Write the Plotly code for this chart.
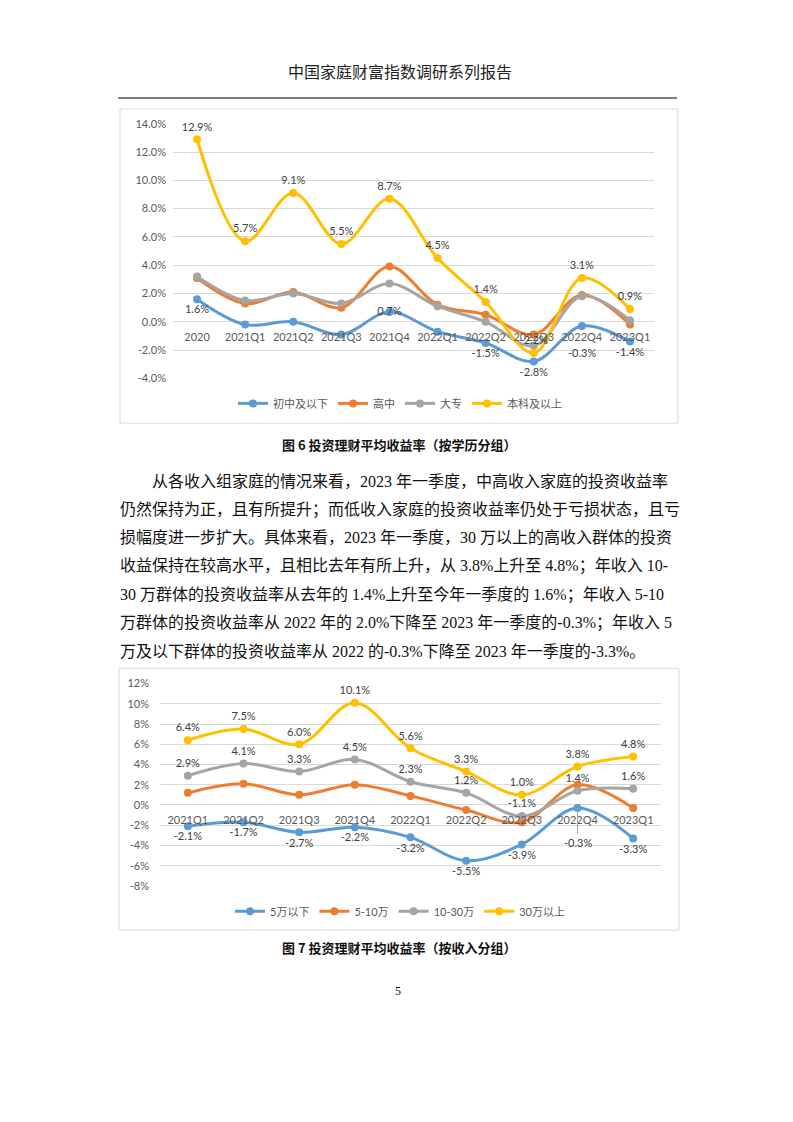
import plotly.graph_objects as go

W, H = 793, 1122
OX, OY = 8, 8                 # default page margin of the html body
FW, FH = W - 2 * OX, H - 2 * OY

# ---------------- data ----------------
cats_edu = ["2020", "2021Q1", "2021Q2", "2021Q3", "2021Q4",
            "2022Q1", "2022Q2", "2022Q3", "2022Q4", "2023Q1"]
edu_names = ["初中及以下", "高中", "大专", "本科及以上"]
edu_junior = [1.6, -0.2, 0.0, -0.9, 0.7, -0.7, -1.5, -2.8, -0.3, -1.4]
edu_senior = [3.1, 1.3, 2.1, 1.0, 3.9, 1.2, 0.5, -0.9, 1.9, -0.2]
edu_college = [3.2, 1.5, 2.0, 1.3, 2.7, 1.1, 0.0, -1.7, 1.8, 0.1]
edu_bachelor = [12.9, 5.7, 9.1, 5.5, 8.7, 4.5, 1.4, -2.2, 3.1, 0.9]
edu_junior_labeled = [0, 4, 6, 7, 9]
edu_junior_callout = 8
edu_yticks = [-4, -2, 0, 2, 4, 6, 8, 10, 12, 14]

cats_inc = ["2021Q1", "2021Q2", "2021Q3", "2021Q4",
            "2022Q1", "2022Q2", "2022Q3", "2022Q4", "2023Q1"]
inc_names = ["5万以下", "5-10万", "10-30万", "30万以上"]
inc_u5 = [-2.1, -1.7, -2.7, -2.2, -3.2, -5.5, -3.9, -0.3, -3.3]
inc_5_10 = [1.2, 2.1, 1.0, 2.0, 0.9, -0.5, -1.7, 2.0, -0.3]
inc_10_30 = [2.9, 4.1, 3.3, 4.5, 2.3, 1.2, -1.1, 1.4, 1.6]
inc_30p = [6.4, 7.5, 6.0, 10.1, 5.6, 3.3, 1.0, 3.8, 4.8]
inc_u5_callout = 7
inc_yticks = [-8, -6, -4, -2, 0, 2, 4, 6, 8, 10, 12]

header_text = "中国家庭财富指数调研系列报告"
caption6 = "图 6 投资理财平均收益率（按学历分组）"
caption7 = "图 7 投资理财平均收益率（按收入分组）"
body_lines = [
    "从各收入组家庭的情况来看，2023 年一季度，中高收入家庭的投资收益率",
    "仍然保持为正，且有所提升；而低收入家庭的投资收益率仍处于亏损状态，且亏",
    "损幅度进一步扩大。具体来看，2023 年一季度，30 万以上的高收入群体的投资",
    "收益保持在较高水平，且相比去年有所上升，从 3.8%上升至 4.8%；年收入 10-",
    "30 万群体的投资收益率从去年的 1.4%上升至今年一季度的 1.6%；年收入 5-10",
    "万群体的投资收益率从 2022 年的 2.0%下降至 2023 年一季度的-0.3%；年收入 5",
    "万及以下群体的投资收益率从 2022 的-0.3%下降至 2023 年一季度的-3.3%。",
]
page_no = "5"

COLORS = ["#5B9BD5", "#ED7D31", "#A5A5A5", "#FFC000"]
CHART_FONT = "Lato, 'Noto Sans CJK SC', sans-serif"
LABEL_COLOR = "#404040"
AXIS_COLOR = "#595959"
GRID = "#D9D9D9"


def py(y):
    return 1 - (y - OY) / FH


def px(x):
    return (x - OX) / FW


def fmt1(v):
    return f"{v:.1f}%"


fig = go.Figure()


def add_series(x, y, name, color, xa, ya, legend, text=None, pos=None):
    fig.add_trace(go.Scatter(
        x=x, y=y, name=name, mode="lines+markers+text" if text else "lines+markers",
        line=dict(color=color, width=3, shape="spline", smoothing=1),
        marker=dict(color=color, size=8),
        text=text, textposition=pos,
        textfont=dict(size=11, color=LABEL_COLOR, family=CHART_FONT),
        xaxis=xa, yaxis=ya, legend=legend, cliponaxis=False,
    ))


# chart 1 (education)
junior_text = [fmt1(v) if i in edu_junior_labeled else "" for i, v in enumerate(edu_junior)]
junior_pos = ["middle center" if i == 4 else "bottom center" for i in range(len(edu_junior))]
add_series(cats_edu, edu_junior, edu_names[0], COLORS[0], "x", "y", "legend",
           junior_text, junior_pos)
add_series(cats_edu, edu_senior, edu_names[1], COLORS[1], "x", "y", "legend")
add_series(cats_edu, edu_college, edu_names[2], COLORS[2], "x", "y", "legend")
add_series(cats_edu, edu_bachelor, edu_names[3], COLORS[3], "x", "y", "legend",
           [fmt1(v) for v in edu_bachelor], "top center")

# chart 2 (income)
u5_text = ["" if i == inc_u5_callout else fmt1(v) for i, v in enumerate(inc_u5)]
add_series(cats_inc, inc_u5, inc_names[0], COLORS[0], "x2", "y2", "legend2",
           u5_text, "bottom center")
add_series(cats_inc, inc_5_10, inc_names[1], COLORS[1], "x2", "y2", "legend2")
add_series(cats_inc, inc_10_30, inc_names[2], COLORS[2], "x2", "y2", "legend2",
           [fmt1(v) for v in inc_10_30], "top center")
add_series(cats_inc, inc_30p, inc_names[3], COLORS[3], "x2", "y2", "legend2",
           [fmt1(v) for v in inc_30p], "top center")

# callout labels that sit below the category labels
fig.add_annotation(x=cats_edu[edu_junior_callout], y=edu_junior[edu_junior_callout],
                   xref="x", yref="y", text=fmt1(edu_junior[edu_junior_callout]),
                   showarrow=False, yshift=-26,
                   font=dict(size=11, color=LABEL_COLOR, family=CHART_FONT))
fig.add_annotation(x=cats_inc[inc_u5_callout], y=inc_u5[inc_u5_callout],
                   xref="x2", yref="y2", text=fmt1(inc_u5[inc_u5_callout]),
                   showarrow=True, arrowhead=0, arrowwidth=1, arrowcolor="#A6A6A6",
                   ax=0, ay=34, standoff=0,
                   font=dict(size=11, color=LABEL_COLOR, family=CHART_FONT))

# geometry
y1_dom = [py(375.7), py(118)]
y2_dom = [py(889.3), py(684.5)]
y1_zero = y1_dom[0] + (y1_dom[1] - y1_dom[0]) * (0 - edu_yticks[0]) / (edu_yticks[-1] - edu_yticks[0])
y2_zero = y2_dom[0] + (y2_dom[1] - y2_dom[0]) * (0 - inc_yticks[0]) / (inc_yticks[-1] - inc_yticks[0])

xcommon = dict(type="category", showgrid=False, zeroline=False, showline=False,
               ticks="outside", ticklen=5, tickcolor="rgba(0,0,0,0)",
               tickfont=dict(size=11, color=AXIS_COLOR, family=CHART_FONT),
               anchor="free")
ycommon = dict(showgrid=True, gridcolor=GRID, gridwidth=1, zeroline=False,
               showline=False, ticks="",
               tickfont=dict(size=11, color=AXIS_COLOR, family=CHART_FONT))

fig.update_layout(
    width=FW, height=FH, margin=dict(l=0, r=0, t=0, b=0),
    paper_bgcolor="white", plot_bgcolor="white",
    xaxis=dict(domain=[px(173), px(654)], range=[-0.5, len(cats_edu) - 0.5],
               position=y1_zero, **xcommon),
    yaxis=dict(domain=y1_dom, range=[edu_yticks[0], edu_yticks[-1]],
               tickvals=edu_yticks, ticktext=[f"{v:.1f}%" for v in edu_yticks],
               anchor="x", ticklabelstandoff=6, **ycommon),
    xaxis2=dict(domain=[px(160), px(661)], range=[-0.5, len(cats_inc) - 0.5],
                position=y2_zero, **xcommon),
    yaxis2=dict(domain=y2_dom, range=[inc_yticks[0], inc_yticks[-1]],
                tickvals=inc_yticks, ticktext=[f"{v:d}%" for v in inc_yticks],
                anchor="x2", ticklabelstandoff=10, **ycommon),
    legend=dict(orientation="h", x=px(400), xanchor="center", y=py(401), yanchor="middle",
                font=dict(size=11, color=AXIS_COLOR, family=CHART_FONT),
                bgcolor="rgba(0,0,0,0)"),
    legend2=dict(orientation="h", x=px(400), xanchor="center", y=py(915), yanchor="middle",
                 font=dict(size=11, color=AXIS_COLOR, family=CHART_FONT),
                 bgcolor="rgba(0,0,0,0)"),
    showlegend=True,
)

# frames & header rule
fig.add_shape(type="rect", xref="paper", yref="paper",
              x0=px(120), x1=px(678), y0=py(421), y1=py(103),
              line=dict(color=GRID, width=1), layer="below")
fig.add_shape(type="rect", xref="paper", yref="paper",
              x0=px(119), x1=px(679), y0=py(934), y1=py(669),
              line=dict(color=GRID, width=1), layer="below")
fig.add_shape(type="line", xref="paper", yref="paper",
              x0=px(118), x1=px(677), y0=py(92), y1=py(92),
              line=dict(color="#505050", width=1.5))

BODY_FONT = "'Liberation Serif', 'Noto Sans CJK SC', serif"
fig.add_annotation(text=header_text, xref="paper", yref="paper", x=px(400), y=py(66),
                   showarrow=False, xanchor="center", yanchor="middle",
                   font=dict(size=16, color="#222222", family=BODY_FONT))
fig.add_annotation(text=f"<b>{caption6}</b>", xref="paper", yref="paper", x=px(400), y=py(443),
                   showarrow=False, xanchor="center", yanchor="middle",
                   font=dict(size=13, color="#111111", family="'Noto Sans CJK SC', sans-serif"))
fig.add_annotation(text=f"<b>{caption7}</b>", xref="paper", yref="paper", x=px(400), y=py(952),
                   showarrow=False, xanchor="center", yanchor="middle",
                   font=dict(size=13, color="#111111", family="'Noto Sans CJK SC', sans-serif"))
for i, line in enumerate(body_lines):
    x0 = 150 if i == 0 else 118
    fig.add_annotation(text=line, xref="paper", yref="paper", x=px(x0), y=py(480 + 28.6 * i),
                       showarrow=False, xanchor="left", yanchor="middle",
                       font=dict(size=16, color="#111111", family=BODY_FONT))
fig.add_annotation(text=page_no, xref="paper", yref="paper", x=px(398), y=py(996),
                   showarrow=False, xanchor="center", yanchor="middle",
                   font=dict(size=12, color="#111111", family=BODY_FONT))

fig.write_html("out.html")
